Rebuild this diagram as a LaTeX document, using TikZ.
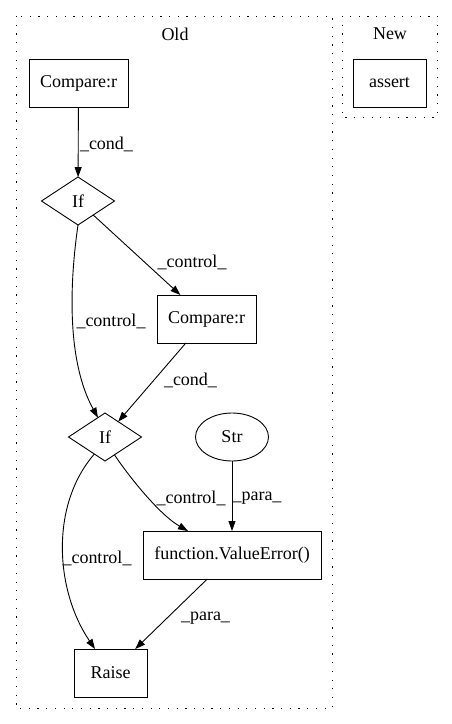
\documentclass[tikz,border=0pt]{standalone}
\usepackage{fontspec}
\setmainfont{Liberation Serif}
\usetikzlibrary{shapes.geometric,arrows.meta}
\begin{document}
\begin{tikzpicture}[x=1pt,y=-1pt,
  font=\fontsize{18}{21}\selectfont,
  every node/.style={inner sep=0pt, outer sep=0pt},
  cluster/.style={draw, line width=1pt, dash pattern=on 1.2pt off 7.5pt},
  boxnode/.style={draw, rectangle, line width=0.9pt, minimum height=48pt},
  ifnode/.style={draw, diamond, line width=0.9pt, minimum width=73pt, minimum height=48pt},
  strnode/.style={draw, ellipse, line width=0.9pt, minimum width=73pt, minimum height=48pt},
  edge/.style={draw, line width=0.9pt, -{Triangle[length=10pt,width=7pt]}},
  lbl/.style={anchor=center}]
\useasboundingbox (0,0) rectangle (452,724);
% clusters
\draw[cluster] (16,16) rectangle (332,708);
\draw[cluster] (342,16) rectangle (437,117);
\node[lbl] (oldlab) at (175,34) {Old};
\node[lbl] (newlab) at (390,34) {New};
% nodes
\node[boxnode, minimum width=99pt] (c1) at (78.5,83) {Compare:r};
\node[boxnode, minimum width=73pt] (as) at (389.5,83) {assert};
\node[ifnode] (if1) at (78,201) {If};
\node[boxnode, minimum width=99pt] (c2) at (206.5,319) {Compare:r};
\node[ifnode] (if2) at (105,437) {If};
\node[strnode] (str) at (232,437) {Str};
\node[boxnode, minimum width=178pt] (ve) at (232,555) {function.ValueError()};
\node[boxnode, minimum width=73pt] (raise) at (110.5,673) {Raise};
% edges
\draw[edge] (c1) -- (if1);
\draw[edge] (if1) -- (c2);
\draw[edge] (if1.south) .. controls (70,280) and (66,360) .. (if2.110);
\draw[edge] (c2) -- (if2);
\draw[edge] (if2.-62) .. controls (130,478) and (160,515) .. ([xshift=-44pt]ve.north);
\draw[edge] (str) -- (ve);
\draw[edge] (if2.238) .. controls (50,505) and (55,590) .. ([xshift=-15.5pt]raise.north);
\draw[edge] (ve) -- (raise);
% edge labels
\node[lbl] (l1) at (106.5,144) {\_cond\_};
\node[lbl] (l2) at (192,262) {\_control\_};
\node[lbl] (l3) at (111,321) {\_control\_};
\node[lbl] (l4) at (190.5,380) {\_cond\_};
\node[lbl] (l5) at (191,498) {\_control\_};
\node[lbl] (l6) at (257,498) {\_para\_};
\node[lbl] (l7) at (97,558) {\_control\_};
\node[lbl] (l8) at (205.5,618) {\_para\_};
\end{tikzpicture}
\end{document}
